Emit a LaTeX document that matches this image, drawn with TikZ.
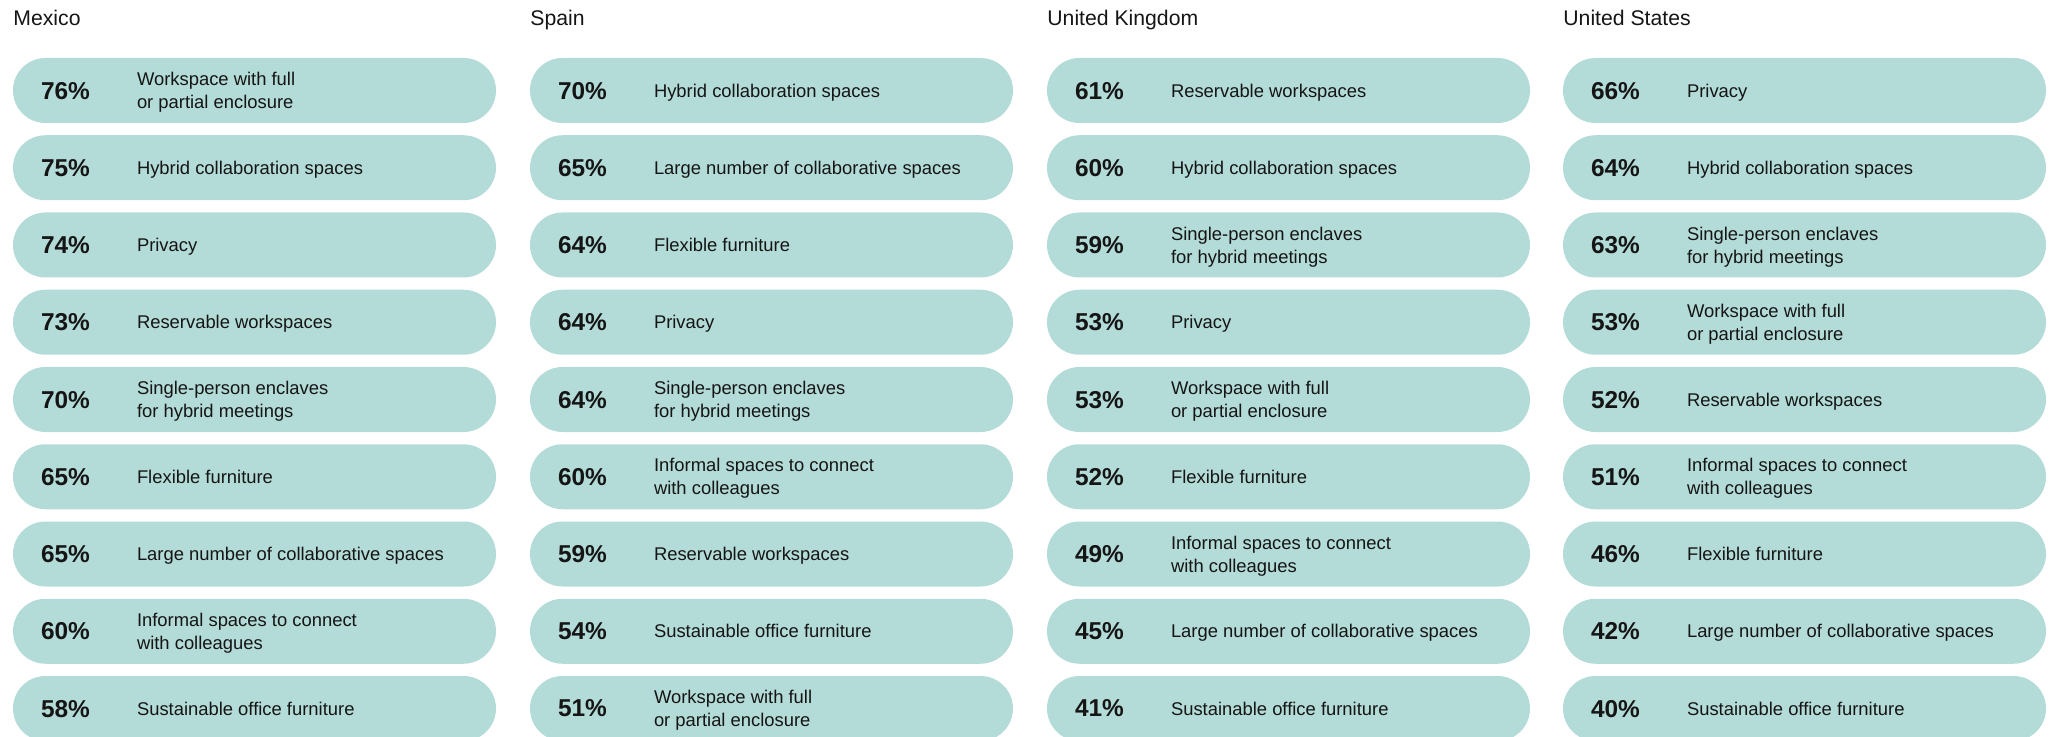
\documentclass[tikz,border=0pt]{standalone}
\usepackage{fontspec}
\setmainfont{Liberation Sans}
\usetikzlibrary{positioning}
\definecolor{pillteal}{HTML}{B3DBD8}
\definecolor{inkgray}{HTML}{151515}
\tikzset{pill/.style = {rectangle, rounded corners=16.25pt, fill=pillteal, minimum width=241.5pt, minimum height=32.5pt, inner sep=0pt},
         pct/.style = {inner sep=0pt, anchor=west, text depth=0pt, text=inkgray, font=\fontsize{12.2}{14}\selectfont\bfseries},
         lbl/.style = {inner sep=0pt, align=left, text depth=0pt, text=inkgray, font=\fontsize{9.2}{11.5}\selectfont},
         country/.style = {inner sep=0pt, anchor=base west, text=inkgray, font=\fontsize{10.6}{12}\selectfont}}

\begin{document}
\begin{tikzpicture}[x=0.5pt, y=0.5pt]
\useasboundingbox (0,0) rectangle (2055,-737);
% Mexico
\node[country] (mx) at (13,-26) {Mexico};
\foreach \pc/\txt [count=\i] in {76/Workspace with full\\or partial enclosure, 75/Hybrid collaboration spaces, 74/Privacy, 73/Reservable workspaces, 70/Single-person enclaves\\for hybrid meetings, 65/Flexible furniture, 65/Large number of collaborative spaces, 60/Informal spaces to connect\\with colleagues, 58/Sustainable office furniture} {
  \node[pill] (mx-\i) at (254.5,-13.25-77.25*\i) {};
  \node[pct, right=14pt of mx-\i.west] (mx-\i-p) {\pc\%};
  \node[lbl, right=62pt of mx-\i.west] (mx-\i-t) {\txt};
}
% Spain
\node[country] (es) at (530,-26) {Spain};
\foreach \pc/\txt [count=\i] in {70/Hybrid collaboration spaces, 65/Large number of collaborative spaces, 64/Flexible furniture, 64/Privacy, 64/Single-person enclaves\\for hybrid meetings, 60/Informal spaces to connect\\with colleagues, 59/Reservable workspaces, 54/Sustainable office furniture, 51/Workspace with full\\or partial enclosure} {
  \node[pill] (es-\i) at (771.5,-13.25-77.25*\i) {};
  \node[pct, right=14pt of es-\i.west] (es-\i-p) {\pc\%};
  \node[lbl, right=62pt of es-\i.west] (es-\i-t) {\txt};
}
% United Kingdom
\node[country] (uk) at (1047,-26) {United Kingdom};
\foreach \pc/\txt [count=\i] in {61/Reservable workspaces, 60/Hybrid collaboration spaces, 59/Single-person enclaves\\for hybrid meetings, 53/Privacy, 53/Workspace with full\\or partial enclosure, 52/Flexible furniture, 49/Informal spaces to connect\\with colleagues, 45/Large number of collaborative spaces, 41/Sustainable office furniture} {
  \node[pill] (uk-\i) at (1288.5,-13.25-77.25*\i) {};
  \node[pct, right=14pt of uk-\i.west] (uk-\i-p) {\pc\%};
  \node[lbl, right=62pt of uk-\i.west] (uk-\i-t) {\txt};
}
% United States
\node[country] (us) at (1563,-26) {United States};
\foreach \pc/\txt [count=\i] in {66/Privacy, 64/Hybrid collaboration spaces, 63/Single-person enclaves\\for hybrid meetings, 53/Workspace with full\\or partial enclosure, 52/Reservable workspaces, 51/Informal spaces to connect\\with colleagues, 46/Flexible furniture, 42/Large number of collaborative spaces, 40/Sustainable office furniture} {
  \node[pill] (us-\i) at (1804.5,-13.25-77.25*\i) {};
  \node[pct, right=14pt of us-\i.west] (us-\i-p) {\pc\%};
  \node[lbl, right=62pt of us-\i.west] (us-\i-t) {\txt};
}
\end{tikzpicture}
\end{document}
